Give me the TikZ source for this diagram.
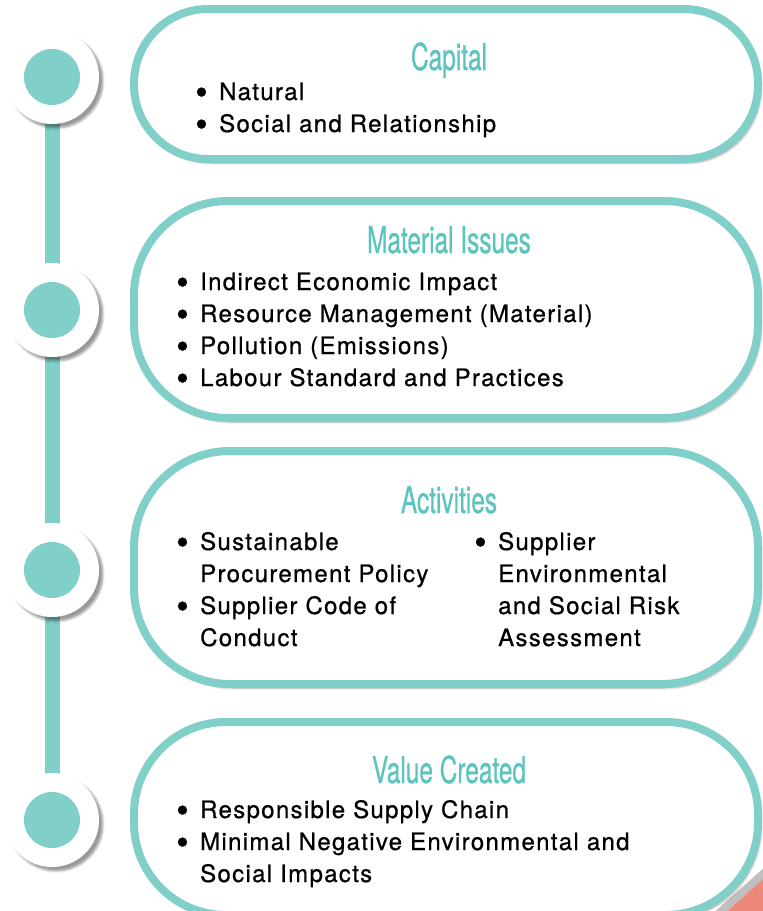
\documentclass[tikz,border=0pt]{standalone}
\usepackage{fontspec}
\setmainfont{TeX Gyre Heros}[FakeBold=0.8]
\newfontfamily\bodyfont{TeX Gyre Heros}[LetterSpace=5.5, FakeBold=0.7]
\usetikzlibrary{shadows.blur}
\definecolor{tealline}{RGB}{128,207,201}
\definecolor{tealhead}{RGB}{92,196,191}
\definecolor{salmon}{RGB}{238,136,122}
\newcommand{\bul}{\makebox[22pt][l]{\hspace{-2pt}\smash{\raisebox{-4.5pt}{\scalebox{1.5}{\textbullet}}}}}
\newcommand{\headtext}[1]{\scalebox{0.66}[1]{#1}}

\tikzset{
  panel/.style={draw=tealline, line width=8pt, fill=white, inner sep=0pt,
    blur shadow={shadow xshift=3pt, shadow yshift=-4pt, shadow blur steps=6, shadow opacity=35}},
  heading/.style={text=tealhead, font=\fontsize{37}{37}\selectfont, anchor=base, inner sep=0pt},
  item/.style={anchor=base west, font=\bodyfont\fontsize{24}{24}\selectfont, inner sep=0pt},
  knob/.style={circle, fill=white, minimum size=94pt, inner sep=0pt,
    blur shadow={shadow xshift=4pt, shadow yshift=-4pt, shadow blur steps=6, shadow opacity=40}},
  knobdot/.style={circle, fill=tealline, minimum size=56pt, inner sep=0pt},
  stem/.style={draw=tealline, line width=15pt}
}

\begin{document}
\begin{tikzpicture}[x=1pt, y=-1pt]
			%%%%% START %%%%%
			\useasboundingbox (0,0) rectangle (763,911);
			
			% corner behind the last box
			\fill[black!25] (700,925) -- (775,858) -- (775,868) -- (712,925) -- cycle;
			\fill[salmon] (712,925) -- (775,868) -- (775,925) -- cycle;
			
			% boxes
			\node[panel, minimum width=624pt, minimum height=150pt, rounded corners=74pt] (capital) at (446,84) {};
			\node[panel, minimum width=624pt, minimum height=217pt, rounded corners=94pt] (issues) at (446,309.5) {};
			\node[panel, minimum width=624pt, minimum height=233pt, rounded corners=96pt] (activities) at (446,567.5) {};
			\node[panel, minimum width=624pt, minimum height=193pt, rounded corners=92pt] (value) at (446,818.5) {};
			
			% timeline
			\coordinate (k1) at (52,77);
			\coordinate (k2) at (52,310);
			\coordinate (k3) at (52,570);
			\coordinate (k4) at (52,820);
			\draw[stem] (k1) -- (k4);
			\foreach \k in {1,...,4} {
				\node[knob] (knob\k) at (k\k) {};
				\node[knobdot] (dot\k) at (knob\k) {};
			}
			
			% Capital
			\node[heading] (capitalhead) at (449,70) {\headtext{Capital}};
			\node[item] (cap1) at (197,100) {\bul Natural};
			\node[item] (cap2) at (197,132) {\bul Social and Relationship};
			
			% Material Issues
			\node[heading] (issueshead) at (449,253) {\headtext{Material Issues}};
			\node[item] (mat1) at (178,290) {\bul Indirect Economic Impact};
			\node[item] (mat2) at (178,322) {\bul Resource Management (Material)};
			\node[item] (mat3) at (178,354) {\bul Pollution (Emissions)};
			\node[item] (mat4) at (178,386) {\bul Labour Standard and Practices};
			
			% Activities
			\node[heading] (activitieshead) at (449,513) {\headtext{Activities}};
			\node[item] (act1) at (178,550) {\bul Sustainable};
			\node[item] (act2) at (200,582) {Procurement Policy};
			\node[item] (act3) at (178,614) {\bul Supplier Code of};
			\node[item] (act4) at (200,646) {Conduct};
			\node[item] (act5) at (476,550) {\bul Supplier};
			\node[item] (act6) at (498,582) {Environmental};
			\node[item] (act7) at (498,614) {and Social Risk};
			\node[item] (act8) at (498,646) {Assessment};
			
			% Value Created
			\node[heading] (valuehead) at (449,783) {\headtext{Value Created}};
			\node[item] (val1) at (178,818) {\bul Responsible Supply Chain};
			\node[item] (val2) at (178,850) {\bul Minimal Negative Environmental and};
			\node[item] (val3) at (200,882) {Social Impacts};
			
			%%%%% END %%%%%
\end{tikzpicture}
\end{document}
